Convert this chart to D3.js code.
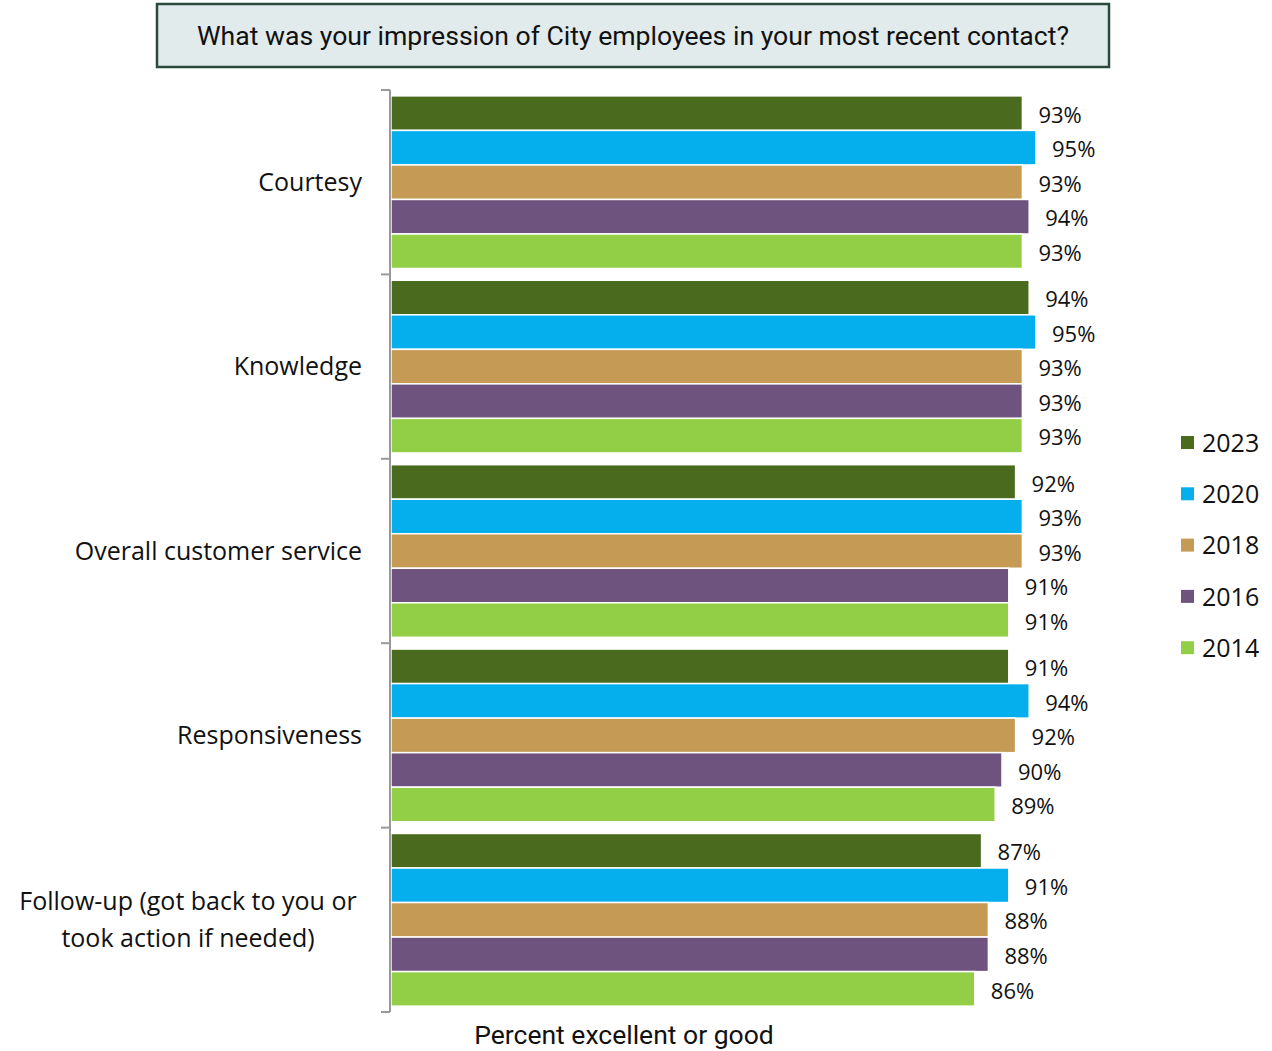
<!DOCTYPE html>
<html>
<head>
<meta charset="utf-8">
<script src="https://cdn.jsdelivr.net/npm/d3@7"></script>
<style>
  html, body { margin: 0; padding: 0; background: #fff; }
  svg { display: block; }
</style>
</head>
<body>
<svg id="chart" width="1272" height="1051"></svg>
<script>
// Survey question and categories
const title = "What was your impression of City employees in your most recent contact?";
const categories = ["Courtesy", "Knowledge", "Overall customer service", "Responsiveness", "Follow-up (got back to you or took action if needed)"];
const categoryLines = [["Courtesy"], ["Knowledge"], ["Overall customer service"], ["Responsiveness"], ["Follow-up (got back to you or", "took action if needed)"]];
const years = ["2023", "2020", "2018", "2016", "2014"];
const colors = ["#4a6b1e", "#05aeed", "#c49a54", "#6e537f", "#92cf46"];

// Percent excellent or good, by year, per category
const values2023 = [0.93, 0.94, 0.92, 0.91, 0.87];
const values2020 = [0.95, 0.95, 0.93, 0.94, 0.91];
const values2018 = [0.93, 0.93, 0.93, 0.92, 0.88];
const values2016 = [0.94, 0.93, 0.91, 0.90, 0.88];
const values2014 = [0.93, 0.93, 0.91, 0.89, 0.86];
const seriesValues = [values2023, values2020, values2018, values2016, values2014];

const axisLabel = "Percent excellent or good";

const svg = d3.select("#chart");
const plotLeft = 390, plotRight = 1070, plotTop = 90, plotBottom = 1012;

const x = d3.scaleLinear().domain([0, 1]).range([plotLeft, plotRight]);
const y0 = d3.scaleBand().domain(categories).range([plotTop, plotBottom]).paddingInner(0).paddingOuter(0);
const y1 = d3.scaleBand().domain(years).range([0, y0.bandwidth()]).paddingOuter(0.17).paddingInner(0);

// Title box
svg.append("rect")
  .attr("x", 157).attr("y", 4).attr("width", 952).attr("height", 63)
  .attr("fill", "#e2ebec").attr("stroke", "#2b4a3e").attr("stroke-width", 2.5);
svg.append("text")
  .attr("x", 633).attr("y", 45)
  .attr("text-anchor", "middle")
  .attr("font-family", "Roboto, sans-serif").attr("font-size", 26.6)
  .attr("fill", "#111")
  .text(title);

// Bars and value labels
const groups = svg.selectAll("g.cat")
  .data(categories)
  .join("g")
  .attr("class", "cat")
  .attr("transform", d => `translate(0,${y0(d)})`);

groups.each(function(cat, ci) {
  const g = d3.select(this);
  years.forEach((yr, si) => {
    const v = seriesValues[si][ci];
    g.append("rect")
      .attr("x", x(0) + 1)
      .attr("y", y1(yr))
      .attr("width", x(v) - x(0) - 1)
      .attr("height", y1.bandwidth())
      .attr("fill", colors[si])
      .attr("stroke", "#fff")
      .attr("stroke-width", 1.5);
    g.append("text")
      .attr("x", x(v) + 16)
      .attr("y", y1(yr) + y1.bandwidth() / 2 + 2)
      .attr("dy", "0.35em")
      .attr("font-family", "'Open Sans', sans-serif")
      .attr("font-size", 22)
      .attr("fill", "#111")
      .text(d3.format(".0%")(v));
  });
});

// Category axis: vertical line with ticks at band boundaries
const axisG = svg.append("g");
axisG.append("line")
  .attr("x1", plotLeft).attr("x2", plotLeft).attr("y1", plotTop).attr("y2", plotBottom)
  .attr("stroke", "#999").attr("stroke-width", 2);
const boundaries = categories.map(c => y0(c)).concat([plotBottom]);
axisG.selectAll("line.tick")
  .data(boundaries)
  .join("line")
  .attr("class", "tick")
  .attr("x1", plotLeft - 9).attr("x2", plotLeft)
  .attr("y1", d => d).attr("y2", d => d)
  .attr("stroke", "#999").attr("stroke-width", 2);

// Category labels
svg.selectAll("text.cat-label")
  .data(categories)
  .join("text")
  .attr("class", "cat-label")
  .attr("font-family", "'Open Sans', sans-serif")
  .attr("font-size", 25)
  .attr("fill", "#111")
  .each(function(d, i) {
    const lines = categoryLines[i];
    const cy = y0(d) + y0.bandwidth() / 2;
    const lh = 37;
    const startY = cy - (lines.length - 1) * lh / 2;
    const t = d3.select(this);
    lines.forEach((ln, li) => {
      t.append("tspan")
        .attr("x", lines.length > 1 ? 188 : 362)
        .attr("text-anchor", lines.length > 1 ? "middle" : "end")
        .attr("y", startY + li * lh)
        .attr("dy", "0.35em")
        .text(ln);
    });
  });

// Axis title
svg.append("text")
  .attr("x", 624).attr("y", 1044)
  .attr("text-anchor", "middle")
  .attr("font-family", "Roboto, sans-serif").attr("font-size", 26.5)
  .attr("fill", "#111")
  .text(axisLabel);

// Legend
const legend = svg.append("g");
years.forEach((yr, i) => {
  const ly = 443 + i * 51.3;
  legend.append("rect")
    .attr("x", 1181).attr("y", ly - 7).attr("width", 13).attr("height", 13)
    .attr("fill", colors[i]);
  legend.append("text")
    .attr("x", 1202).attr("y", ly)
    .attr("dy", "0.35em")
    .attr("font-family", "'Open Sans', sans-serif").attr("font-size", 25)
    .attr("fill", "#111")
    .text(yr);
});
</script>
</body>
</html>
